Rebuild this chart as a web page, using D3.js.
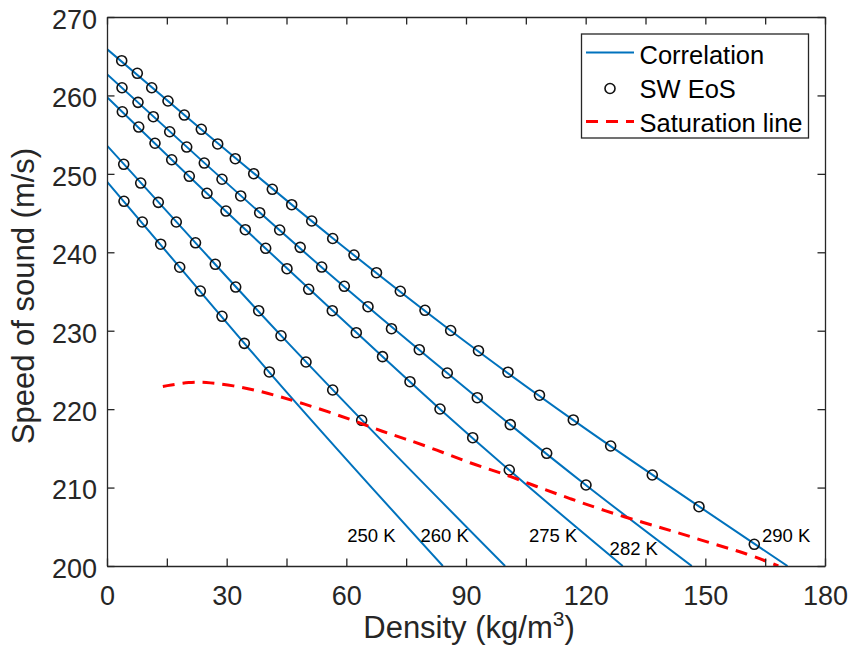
<!DOCTYPE html>
<html>
<head>
<meta charset="utf-8">
<script src="https://cdn.jsdelivr.net/npm/d3@7"></script>
<style>
  body { margin: 0; background: #fff; }
  text { font-family: "Liberation Sans", Arial, Helvetica, sans-serif; }
</style>
</head>
<body>
<div id="chart"></div>
<script>
// isotherm labels
var temps = ["250 K", "260 K", "275 K", "282 K", "290 K"];
var labelX = [60.2, 78.6, 105.8, 126.0, 164.2];
var labelY = [203.0, 203.0, 203.0, 201.4, 203.1];

// correlation curves, [density, speed]
var corr250 = [[0, 249.0], [18.2, 238.1], [40.7, 224.7], [84.2, 200]];
var corr260 = [[0, 253.6], [22.2, 241.2], [43.6, 229.4], [63.9, 218.6], [99.8, 200]];
var corr275 = [[0, 259.8], [25.1, 247.5], [56.5, 232.6], [83.5, 220.0], [100.9, 212.2], [129.3, 200]];
var corr282 = [[0, 262.7], [24.4, 251.4], [53.8, 238.1], [85.3, 224.6], [120.1, 210.3], [146.6, 200]];
var corr290 = [[0, 265.9], [23.6, 255.7], [56.6, 241.8], [86.2, 230.0], [116.9, 218.6], [148.4, 207.6], [170.6, 200]];

// SW EoS points
var eos250 = [[4.26, 246.50], [8.85, 243.86], [13.46, 241.03], [18.23, 238.09], [23.39, 235.06],
  [28.83, 231.84], [34.42, 228.39], [40.69, 224.74]];
var eos260 = [[4.19, 251.22], [8.45, 248.83], [12.86, 246.37], [17.37, 243.86], [22.19, 241.21],
  [27.15, 238.47], [32.26, 235.57], [38.03, 232.55], [43.62, 229.36], [49.89, 226.01],
  [56.58, 222.44], [63.85, 218.58]];
var eos275 = [[3.84, 257.92], [7.95, 255.97], [12.03, 253.90], [16.22, 251.80], [20.63, 249.69],
  [25.07, 247.52], [29.83, 245.26], [34.67, 242.88], [39.78, 240.51], [45.12, 237.91],
  [50.56, 235.28], [56.48, 232.55], [62.50, 229.75], [69.07, 226.69], [75.96, 223.50],
  [83.48, 220.02], [91.68, 216.36], [100.85, 212.24]];
var eos282 = [[3.76, 260.98], [7.77, 259.12], [11.61, 257.29], [15.72, 255.37], [19.98, 253.42],
  [24.39, 251.38], [28.83, 249.31], [33.52, 247.18], [38.28, 245.05], [43.29, 242.84],
  [48.43, 240.63], [53.82, 238.12], [59.49, 235.66], [65.43, 233.06], [71.32, 230.26],
  [78.29, 227.58], [85.31, 224.61], [92.83, 221.46], [101.10, 218.02], [110.23, 214.37],
  [120.08, 210.33]];
var eos290 = [[3.69, 264.43], [7.60, 262.82], [11.21, 260.98], [15.29, 259.29], [19.38, 257.50],
  [23.64, 255.68], [27.75, 253.81], [32.16, 251.93], [36.78, 250.02], [41.44, 248.03],
  [46.30, 246.07], [51.32, 243.99], [56.58, 241.76], [61.92, 239.65], [67.56, 237.40],
  [73.53, 235.03], [79.72, 232.60], [86.16, 230.03], [93.13, 227.45], [100.53, 224.71],
  [108.42, 221.78], [116.90, 218.62], [126.27, 215.30], [136.70, 211.60], [148.41, 207.56],
  [162.27, 202.77]];

// saturation line
var satLine = [[14.0, 222.9], [20.8, 223.5], [25.8, 223.4], [31.7, 223.0], [37.5, 222.4],
  [43.4, 221.6], [49.2, 220.7], [55.9, 219.6], [62.6, 218.4], [69.3, 217.1], [74.3, 216.3],
  [82.7, 214.8], [91.0, 213.1], [99.4, 211.8], [107.7, 210.1], [116.1, 208.6], [124.4, 207.1],
  [135.3, 205.4], [143.6, 204.2], [152.0, 202.8], [160.4, 201.6], [168.3, 200.0]];

var xTicks = [0, 15, 30, 45, 60, 75, 90, 105, 120, 135, 150, 165, 180];
var yTicks = [200, 210, 220, 230, 240, 250, 260, 270];

var W = 852, H = 667;
var margin = { left: 107, right: 27, top: 17, bottom: 101 };
var blue = "#0072BD", axisCol = "#262626";

var svg = d3.select("#chart").append("svg")
    .attr("width", W)
    .attr("height", H);

var x = d3.scaleLinear().domain([0, 180]).range([margin.left, W - margin.right]);
var y = d3.scaleLinear().domain([200, 270]).range([H - margin.bottom, margin.top]);

svg.append("clipPath").attr("id", "plotclip")
  .append("rect")
    .attr("x", x(0)).attr("y", y(270))
    .attr("width", x(180) - x(0)).attr("height", y(200) - y(270));

var plot = svg.append("g").attr("clip-path", "url(#plotclip)");

var line = d3.line()
    .x(function(d){ return x(d[0]); })
    .y(function(d){ return y(d[1]); })
    .curve(d3.curveMonotoneX);

[corr250, corr260, corr275, corr282, corr290].forEach(function(c){
    plot.append("path")
        .attr("d", line(c))
        .attr("fill", "none")
        .attr("stroke", blue)
        .attr("stroke-width", 2);
});

[eos250, eos260, eos275, eos282, eos290].forEach(function(s){
    plot.selectAll(null)
        .data(s)
      .enter().append("circle")
        .attr("cx", function(d){ return x(d[0]); })
        .attr("cy", function(d){ return y(d[1]); })
        .attr("r", 5)
        .attr("fill", "none")
        .attr("stroke", "#111")
        .attr("stroke-width", 1.6);
});

plot.append("path")
    .attr("d", line.curve(d3.curveBasis)(satLine))
    .attr("fill", "none")
    .attr("stroke", "#ff0000")
    .attr("stroke-width", 3)
    .attr("stroke-dasharray", "12,8");

// isotherm labels
svg.selectAll(".tlabel")
    .data(temps)
  .enter().append("text")
    .attr("class", "tlabel")
    .attr("x", function(d, i){ return x(labelX[i]); })
    .attr("y", function(d, i){ return y(labelY[i]); })
    .attr("font-size", 18.5)
    .attr("fill", "#000")
    .text(function(d){ return d; });

// axes, MATLAB box style with ticks pointing in
function styleAxis(g){
    g.select(".domain").attr("stroke", axisCol).attr("stroke-width", 1.3);
    g.selectAll(".tick line").attr("stroke", axisCol).attr("stroke-width", 1.3);
    g.selectAll(".tick text").attr("fill", axisCol).attr("font-size", 27)
        .attr("font-family", "'Liberation Sans', Arial, Helvetica, sans-serif");
}

var fmtX = function(d){ return d % 30 === 0 ? d : ""; };

svg.append("g")
    .attr("transform", "translate(0," + y(200) + ")")
    .call(d3.axisBottom(x).tickValues(xTicks).tickFormat(fmtX)
        .tickSizeInner(-7.5).tickSizeOuter(0).tickPadding(20))
    .call(styleAxis);

svg.append("g")
    .attr("transform", "translate(0," + y(270) + ")")
    .call(d3.axisTop(x).tickValues(xTicks).tickFormat("")
        .tickSizeInner(-7.5).tickSizeOuter(0))
    .call(styleAxis);

svg.append("g")
    .attr("transform", "translate(" + x(0) + ",0)")
    .call(d3.axisLeft(y).tickValues(yTicks).tickFormat(d3.format("d"))
        .tickSizeInner(-7.5).tickSizeOuter(0).tickPadding(10))
    .call(styleAxis)
    .selectAll(".tick text").attr("dy", "0.42em");

svg.append("g")
    .attr("transform", "translate(" + x(180) + ",0)")
    .call(d3.axisRight(y).tickValues(yTicks).tickFormat("")
        .tickSizeInner(-7.5).tickSizeOuter(0))
    .call(styleAxis);

// axis titles
var xt = svg.append("text")
    .attr("x", 469)
    .attr("y", 638)
    .attr("text-anchor", "middle")
    .attr("font-size", 31)
    .attr("fill", axisCol);
xt.append("tspan").text("Density (kg/m");
xt.append("tspan").attr("font-size", 21).attr("dy", -12).text("3");
xt.append("tspan").attr("dy", 12).text(")");

svg.append("text")
    .attr("transform", "translate(34,296) rotate(-90)")
    .attr("text-anchor", "middle")
    .attr("font-size", 31)
    .attr("fill", axisCol)
    .text("Speed of sound (m/s)");

// legend
var leg = svg.append("g");
leg.append("rect")
    .attr("x", 581.5).attr("y", 34)
    .attr("width", 227).attr("height", 104)
    .attr("fill", "#fff")
    .attr("stroke", axisCol)
    .attr("stroke-width", 1.3);

leg.append("line")
    .attr("x1", 586).attr("x2", 634).attr("y1", 52.5).attr("y2", 52.5)
    .attr("stroke", blue).attr("stroke-width", 2);
leg.append("circle")
    .attr("cx", 610).attr("cy", 88.5).attr("r", 5)
    .attr("fill", "none").attr("stroke", "#111").attr("stroke-width", 1.6);
leg.append("line")
    .attr("x1", 586).attr("x2", 634).attr("y1", 121.5).attr("y2", 121.5)
    .attr("stroke", "#ff0000").attr("stroke-width", 3)
    .attr("stroke-dasharray", "12,8");

var legendNames = ["Correlation", "SW EoS", "Saturation line"];
var legendBase = [64, 98.3, 131.7];
leg.selectAll(".ltext")
    .data(legendNames)
  .enter().append("text")
    .attr("class", "ltext")
    .attr("x", 639.5)
    .attr("y", function(d, i){ return legendBase[i]; })
    .attr("font-size", 25.5)
    .attr("fill", "#000")
    .text(function(d){ return d; });
</script>
</body>
</html>
